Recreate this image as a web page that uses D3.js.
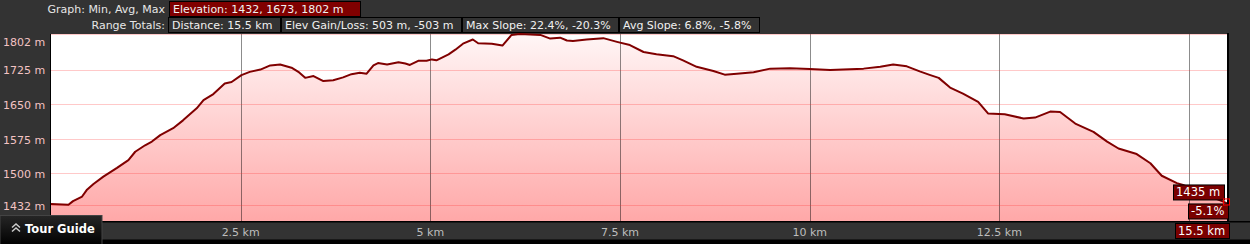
<!DOCTYPE html>
<head>
<meta charset="utf-8">
<title>Elevation profile</title>
<style>
  body { margin: 0; background: #333; }
  svg { display: block; font-family: "Lucida Grande", "DejaVu Sans", sans-serif; }
</style>
</head>
<body>
<svg width="1250" height="244"></svg>
<script src="https://d3js.org/d3.v7.min.js"></script>
<script>

// profile: distance (km) and elevation (m)
var distKm = [0, 0.23, 0.29, 0.41, 0.47, 0.56, 0.69, 0.87, 1.02, 1.11, 1.24, 1.33, 1.44, 1.61, 1.74, 1.92,
    2.01, 2.14, 2.29, 2.38, 2.51, 2.62, 2.76, 2.89, 3.02, 3.17, 3.26, 3.35, 3.46, 3.59, 3.72, 3.85,
    3.96, 4.07, 4.16, 4.25, 4.31, 4.43, 4.58, 4.67, 4.73, 4.84, 4.95, 5.02, 5.08, 5.24, 5.33, 5.43,
    5.56, 5.63, 5.81, 5.95, 6.07, 6.18, 6.45, 6.58, 6.71, 6.80, 6.88, 7.06, 7.28, 7.46, 7.63, 7.81,
    7.98, 8.20, 8.33, 8.51, 8.73, 8.88, 9.04, 9.26, 9.48, 9.74, 10.00, 10.27, 10.44, 10.71, 10.93, 11.10,
    11.28, 11.45, 11.59, 11.70, 11.85, 12.02, 12.22, 12.35, 12.57, 12.82, 12.97, 13.17, 13.30, 13.50, 13.74, 13.92,
    14.07, 14.31, 14.49, 14.64, 14.84, 14.92, 15.21, 15.45, 15.5];
var elevM = [1434, 1432, 1440, 1450, 1464, 1477, 1493, 1512, 1529, 1547, 1561, 1569, 1583, 1598, 1615, 1641,
    1659, 1672, 1695, 1698, 1713, 1720, 1725, 1734, 1736, 1729, 1720, 1707, 1711, 1700, 1702, 1708,
    1715, 1718, 1716, 1734, 1739, 1736, 1741, 1738, 1735, 1744, 1744, 1747, 1745, 1758, 1768, 1781,
    1790, 1782, 1781, 1777, 1800, 1802, 1800, 1792, 1794, 1788, 1787, 1790, 1793, 1785, 1778, 1763,
    1758, 1754, 1745, 1731, 1722, 1714, 1716, 1719, 1727, 1728, 1726, 1724, 1725, 1727, 1731, 1736,
    1732, 1721, 1713, 1707, 1686, 1673, 1655, 1630, 1628, 1619, 1621, 1634, 1633, 1608, 1590, 1569,
    1554, 1542, 1522, 1495, 1479, 1475, 1455, 1439, 1435];

var yTicks = [1432, 1500, 1575, 1650, 1725, 1802];
var xTicks = [2.5, 5, 7.5, 10, 12.5, 15];

var graphLabel = "Graph: Min, Avg, Max";
var elevSummary = "Elevation: 1432, 1673, 1802 m";
var totalsLabel = "Range Totals:";
var totals = ["Distance: 15.5 km", "Elev Gain/Loss: 503 m, -503 m", "Max Slope: 22.4%, -20.3%", "Avg Slope: 6.8%, -5.8%"];
var endSlope = "-5.1%";

var svg = d3.select("svg"),
    plot = {left: 51, right: 1227, top: 34, bottom: 221};

var x = d3.scaleLinear().domain([0, 15.5]).range([plot.left, plot.right]),
    y = d3.scaleLinear().domain([1397, 1802]).range([plot.bottom, plot.top]);

var data = distKm.map(function(d, i) { return {km: d, m: elevM[i]}; });
var last = data[data.length - 1];

var defs = svg.append("defs");
var grad = defs.append("linearGradient")
    .attr("id", "fillGrad")
    .attr("gradientUnits", "userSpaceOnUse")
    .attr("x1", 0).attr("x2", 0)
    .attr("y1", plot.top).attr("y2", plot.bottom);
grad.append("stop").attr("offset", "0%").attr("stop-color", "#fff6f6");
grad.append("stop").attr("offset", "100%").attr("stop-color", "#ffa8a8");

// plot background
svg.append("rect")
    .attr("x", plot.left).attr("y", plot.top)
    .attr("width", plot.right - plot.left).attr("height", plot.bottom - plot.top)
    .attr("fill", "#fff");

var area = d3.area()
    .x(function(d) { return x(d.km); })
    .y0(plot.bottom)
    .y1(function(d) { return y(d.m); });

var line = d3.line()
    .x(function(d) { return x(d.km); })
    .y(function(d) { return y(d.m); });

svg.append("path")
    .datum(data)
    .attr("fill", "url(#fillGrad)")
    .attr("d", area);

// grid
svg.append("g")
    .attr("transform", "translate(0," + plot.bottom + ")")
    .call(d3.axisBottom(x).tickValues(xTicks).tickSize(-(plot.bottom - plot.top)).tickFormat(""))
    .call(function(g) {
        g.select(".domain").remove();
        g.selectAll("line").attr("stroke", "rgba(0,0,0,0.45)").attr("shape-rendering", "crispEdges");
    });

svg.append("g")
    .attr("transform", "translate(" + plot.left + ",0)")
    .call(d3.axisLeft(y).tickValues(yTicks).tickSize(-(plot.right - plot.left)).tickFormat(""))
    .call(function(g) {
        g.select(".domain").remove();
        g.selectAll("line").attr("stroke", "rgba(255,40,40,0.25)").attr("shape-rendering", "crispEdges");
    });

svg.append("path")
    .datum(data)
    .attr("fill", "none")
    .attr("stroke", "#800000")
    .attr("stroke-width", 2)
    .attr("stroke-linejoin", "round")
    .attr("d", line);

// frame
svg.append("line").attr("x1", plot.left - 0.5).attr("x2", plot.left - 0.5)
    .attr("y1", plot.top).attr("y2", plot.bottom).attr("stroke", "#000");
svg.append("line").attr("x1", plot.right + 1).attr("x2", plot.right + 1)
    .attr("y1", plot.top - 1).attr("y2", plot.bottom).attr("stroke", "#000").attr("stroke-width", 2);
svg.append("rect").attr("x", 0).attr("y", plot.bottom).attr("width", 1250).attr("height", 1.5).attr("fill", "#000");
svg.append("rect").attr("x", 0).attr("y", 239.5).attr("width", 1250).attr("height", 5).attr("fill", "#000");

// y labels
svg.append("g").selectAll("text")
    .data(yTicks)
    .enter().append("text")
    .attr("x", 3)
    .attr("y", function(d) { return Math.max(y(d) + 1, plot.top + 8); })
    .attr("dy", "0.35em")
    .attr("fill", "#f3c3c3")
    .style("font-size", "11px")
    .text(function(d) { return d + " m"; });

// x labels (the one under the end readout is covered in the original)
svg.append("g").selectAll("text")
    .data(xTicks.filter(function(d) { return x(last.km) - x(d) > 45; }))
    .enter().append("text")
    .attr("x", function(d) { return x(d); })
    .attr("y", 232)
    .attr("dy", "0.35em")
    .attr("text-anchor", "middle")
    .attr("fill", "#bdbdbd")
    .style("font-size", "11px")
    .text(function(d) { return d + " km"; });

// header
function headerBox(x0, y0, w, h, fill, label) {
    svg.append("rect").attr("x", x0 + 0.5).attr("y", y0 + 0.5).attr("width", w).attr("height", h)
        .attr("fill", fill).attr("stroke", "#000");
    return svg.append("text").attr("x", x0 + 4).attr("y", y0 + h / 2 + 1).attr("dy", "0.35em")
        .attr("fill", "#f0f0f0").style("font-size", "11px").text(label);
}

svg.append("text").attr("x", 165).attr("y", 9).attr("dy", "0.35em").attr("text-anchor", "end")
    .attr("fill", "#e6e6e6").style("font-size", "11px").text(graphLabel);
headerBox(169, 1, 191, 15, "#800000", elevSummary);

svg.append("text").attr("x", 165).attr("y", 25).attr("dy", "0.35em").attr("text-anchor", "end")
    .attr("fill", "#e6e6e6").style("font-size", "11px").text(totalsLabel);

var bx = 168;
totals.forEach(function(t) {
    var txt = headerBox(bx, 17, 10, 15, "#333", t);
    var w = Math.ceil(txt.node().getComputedTextLength()) + 11;
    d3.select(txt.node().previousSibling).attr("width", w);
    bx += w + 1;
});

// end-of-track readouts
function tag(x1, yTop, label) {
    var t = svg.append("text").attr("y", yTop + 8).attr("dy", "0.35em")
        .attr("fill", "#fff").style("font-size", "11.5px").text(label);
    var w = Math.ceil(t.node().getComputedTextLength()) + 6;
    svg.insert("rect", function() { return t.node(); })
        .attr("x", x1 - w + 0.5).attr("y", yTop + 0.5).attr("width", w).attr("height", 15)
        .attr("fill", "#7a0000").attr("stroke", "#000");
    t.attr("x", x1 - w + 3);
}
tag(x(last.km) - 3, y(last.m) - 19, last.m + " m");
tag(x(last.km) + 1, y(last.m) + 0, endSlope);
tag(x(last.km) + 2, 223, last.km + " km");

svg.append("rect")
    .attr("x", x(last.km) - 3.5).attr("y", y(last.m) - 4.5).attr("width", 6).attr("height", 6)
    .attr("fill", "none").attr("stroke", "#f00");

// tour guide button
var tg = defs.append("linearGradient").attr("id", "tgGrad").attr("x1", 0).attr("x2", 0).attr("y1", 0).attr("y2", 1);
tg.append("stop").attr("offset", "0%").attr("stop-color", "#262626");
tg.append("stop").attr("offset", "100%").attr("stop-color", "#000");
svg.append("rect").attr("x", 0).attr("y", 215.5).attr("width", 102).attr("height", 30)
    .attr("fill", "url(#tgGrad)").attr("stroke", "#444");
svg.append("path")
    .attr("d", "M12,227.5 L16,224 L20,227.5 M12,231.5 L16,228 L20,231.5")
    .attr("fill", "none").attr("stroke", "#ccc").attr("stroke-width", 1.5);
svg.append("text").attr("x", 25).attr("y", 229).attr("dy", "0.35em")
    .attr("fill", "#fff").style("font-size", "11.5px").style("font-weight", "bold").text("Tour Guide");

</script>
</body>
